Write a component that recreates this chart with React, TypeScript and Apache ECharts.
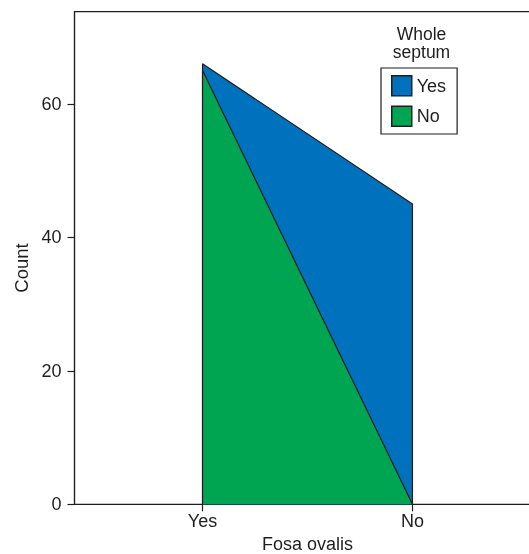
import React, { useEffect, useRef } from 'react';
import * as echarts from 'echarts';

// Data (counts)
const fosaCategories = ['Yes', 'No'];
const septumYesCounts = [1, 45];
const septumNoCounts = [65, 0];
const yTickValues = [0, 20, 40, 60];

const BLUE = '#0071BC';
const GREEN = '#00A551';
const INK = '#1e1e1e';
const FONT = "'Liberation Sans', Arial, sans-serif";

export default function App() {
  const ref = useRef<HTMLDivElement>(null);

  useEffect(() => {
    if (!ref.current) return;
    const chart = echarts.init(ref.current, null, { renderer: 'svg' });

    const xs = fosaCategories.map((_, i) => i + 1);
    const first = xs[0];
    const last = xs[xs.length - 1];
    const noTop = septumNoCounts.slice();
    const yesTop = septumYesCounts.map((v, i) => v + septumNoCounts[i]);
    const polygon = (tops: number[]) => [
      [first, 0],
      ...xs.map((x, i) => [x, tops[i]]),
      [last, 0],
    ];

    chart.setOption({
      animation: false,
      textStyle: { fontFamily: FONT },
      grid: {
        left: 74.5,
        right: 0.5,
        top: 11.7,
        bottom: 49.7,
        show: true,
        borderColor: INK,
        borderWidth: 1.2,
        backgroundColor: 'transparent',
        outerBoundsMode: 'none',
        containLabel: false,
      },
      xAxis: {
        type: 'value',
        min: 0.39,
        max: 2.61,
        name: 'Fosa ovalis',
        nameLocation: 'middle',
        nameGap: 31,
        nameTextStyle: { fontSize: 18, color: INK, fontFamily: FONT },
        axisLine: { show: true, onZero: false, lineStyle: { color: INK, width: 1.2 } },
        axisTick: { show: true, length: 7, customValues: xs, lineStyle: { color: INK, width: 1.2 } },
        axisLabel: {
          customValues: xs,
          margin: 8,
          fontSize: 18,
          color: INK,
          fontFamily: FONT,
          formatter: (v: number) => fosaCategories[Math.round(v) - 1] ?? '',
        },
        splitLine: { show: false },
      },
      yAxis: {
        type: 'value',
        min: 0,
        max: 73.8,
        axisLine: { show: true, lineStyle: { color: INK, width: 1.2 } },
        axisTick: { show: true, length: 7, customValues: yTickValues, lineStyle: { color: INK, width: 1.2 } },
        axisLabel: { customValues: yTickValues, margin: 13, fontSize: 18, color: INK, fontFamily: FONT },
        splitLine: { show: false },
      },
      legend: {
        orient: 'vertical',
        left: 381,
        top: 68,
        padding: [7, 11, 7, 10],
        itemGap: 9,
        itemWidth: 20,
        itemHeight: 20,
        itemTextGap: 9,
        borderColor: INK,
        borderWidth: 1.2,
        icon: 'rect',
        selectedMode: false,
        textStyle: { fontSize: 18, color: INK, fontFamily: FONT },
        data: [
          { name: 'Yes', itemStyle: { color: BLUE, borderColor: INK, borderWidth: 1.5 } },
          { name: 'No', itemStyle: { color: GREEN, borderColor: INK, borderWidth: 1.5 } },
        ],
      },
      graphic: [
        {
          type: 'text',
          x: 421.5,
          y: 33.6,
          style: {
            text: 'Whole',
            align: 'center',
            verticalAlign: 'middle',
            fontSize: 17.5,
            fill: INK,
            fontFamily: FONT,
          },
        },
        {
          type: 'text',
          x: 421.5,
          y: 52,
          style: {
            text: 'septum',
            align: 'center',
            verticalAlign: 'middle',
            fontSize: 17.5,
            fill: INK,
            fontFamily: FONT,
          },
        },
        {
          type: 'text',
          x: 21,
          y: 268,
          rotation: Math.PI / 2,
          style: {
            text: 'Count',
            align: 'center',
            verticalAlign: 'middle',
            fontSize: 18.5,
            fill: INK,
            fontFamily: FONT,
          },
        },
      ],
      series: [
        {
          name: 'Yes',
          type: 'line',
          data: polygon(yesTop),
          symbol: 'none',
          lineStyle: { color: INK, width: 1.2 },
          itemStyle: { color: BLUE },
          areaStyle: { color: BLUE, opacity: 1 },
          z: 2,
        },
        {
          name: 'No',
          type: 'line',
          data: polygon(noTop),
          symbol: 'none',
          lineStyle: { color: INK, width: 1.2 },
          itemStyle: { color: GREEN },
          areaStyle: { color: GREEN, opacity: 1 },
          z: 3,
        },
      ],
    });

    return () => chart.dispose();
  }, []);

  return (
    <div
      style={{ position: 'fixed', left: 0, top: 0, width: 529, height: 554, overflow: 'hidden' }}
    >
      <div ref={ref} style={{ width: 541, height: 554 }} />
    </div>
  );
}
